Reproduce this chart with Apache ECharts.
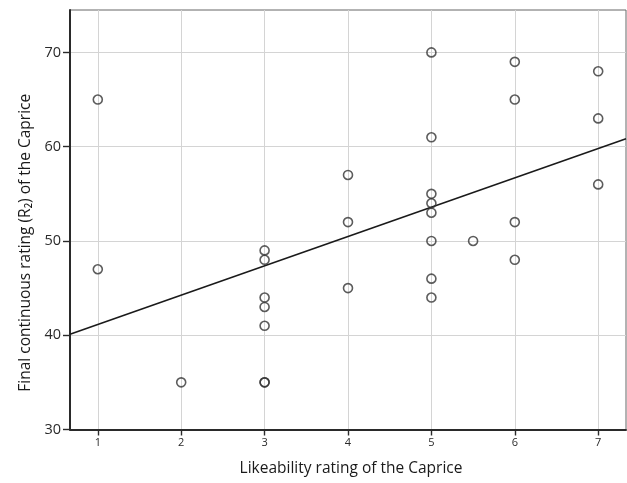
<!DOCTYPE html>
<html>
<head>
<meta charset="utf-8">
<script src="https://cdn.jsdelivr.net/npm/echarts@6/dist/echarts.min.js"></script>
<style>
  html, body { margin: 0; padding: 0; background: #fff; }
  #chart { width: 627px; height: 483px; }
</style>
</head>
<body>
<div id="chart"></div>
<script>
// Likeability rating (x) against final continuous rating R2 (y), one point per listener
const likeability = [1, 1, 2, 3, 3, 3, 3, 3, 3, 3, 4, 4, 4, 5, 5, 5, 5, 5, 5, 5, 5, 5.5, 6, 6, 6, 6, 7, 7, 7];
const finalRating = [65, 47, 35, 49, 48, 44, 43, 41, 35, 35, 57, 52, 45, 70, 61, 55, 54, 53, 50, 46, 44, 50, 69, 65, 52, 48, 68, 63, 56];

// Linear fit line, read at the two plot edges
const fitX = [0.6667, 7.3333];
const fitY = [40.1, 60.85];

// Axis tick labels
const xTicks = [1, 2, 3, 4, 5, 6, 7];
const yTicks = [30, 40, 50, 60, 70];

const points = likeability.map((x, i) => [x, finalRating[i]]);
const fitLine = fitX.map((x, i) => [x, fitY[i]]);

const font = '"Open Sans", "Noto Sans", sans-serif';
const chart = echarts.init(document.getElementById('chart'), null, { renderer: 'canvas' });

chart.setOption({
  animation: false,
  backgroundColor: '#fff',
  grid: {
    left: 70, right: 1, top: 10, bottom: 53.5,
    show: true, borderColor: '#666', borderWidth: 1,
    containLabel: false, outerBoundsMode: 'none'
  },
  xAxis: {
    type: 'value',
    min: 0.6667, max: 7.3333,
    name: 'Likeability rating of the Caprice',
    nameLocation: 'middle',
    nameGap: 31,
    nameTextStyle: { fontFamily: font, fontSize: 15.5, color: '#1a1a1a', padding: [0, 0, 0, 6] },
    axisLine: { show: true, onZero: false, lineStyle: { color: '#2a2a2a', width: 2 } },
    axisTick: { show: true, length: 6, customValues: xTicks, lineStyle: { color: '#2a2a2a', width: 1.4 } },
    axisLabel: { customValues: xTicks, fontFamily: font, fontSize: 11, color: '#2a2a2a', margin: 8 },
    splitLine: { show: true, lineStyle: { color: '#d4d4d4', width: 1 } }
  },
  yAxis: {
    type: 'value',
    min: 30, max: 74.5,
    name: 'Final continuous rating (R\u2082) of the Caprice',
    nameLocation: 'middle',
    nameGap: 36,
    nameTextStyle: { fontFamily: font, fontSize: 15.5, color: '#1a1a1a', padding: [0, 46, 0, 0] },
    axisLine: { show: true, onZero: false, lineStyle: { color: '#2a2a2a', width: 2 } },
    axisTick: { show: true, length: 7, customValues: yTicks, lineStyle: { color: '#2a2a2a', width: 1.4 } },
    axisLabel: { customValues: yTicks, fontFamily: font, fontSize: 14.5, color: '#2a2a2a', margin: 9 },
    splitLine: { show: true, lineStyle: { color: '#d4d4d4', width: 1 } }
  },
  series: [
    {
      type: 'line',
      data: fitLine,
      symbol: 'none',
      lineStyle: { color: '#1a1a1a', width: 1.6 },
      z: 2
    },
    {
      type: 'scatter',
      data: points,
      symbol: 'circle',
      symbolSize: 9,
      itemStyle: { color: 'rgba(255,255,255,0)', borderColor: '#333', borderWidth: 1.6 },
      z: 3
    }
  ]
});
</script>
</body>
</html>
